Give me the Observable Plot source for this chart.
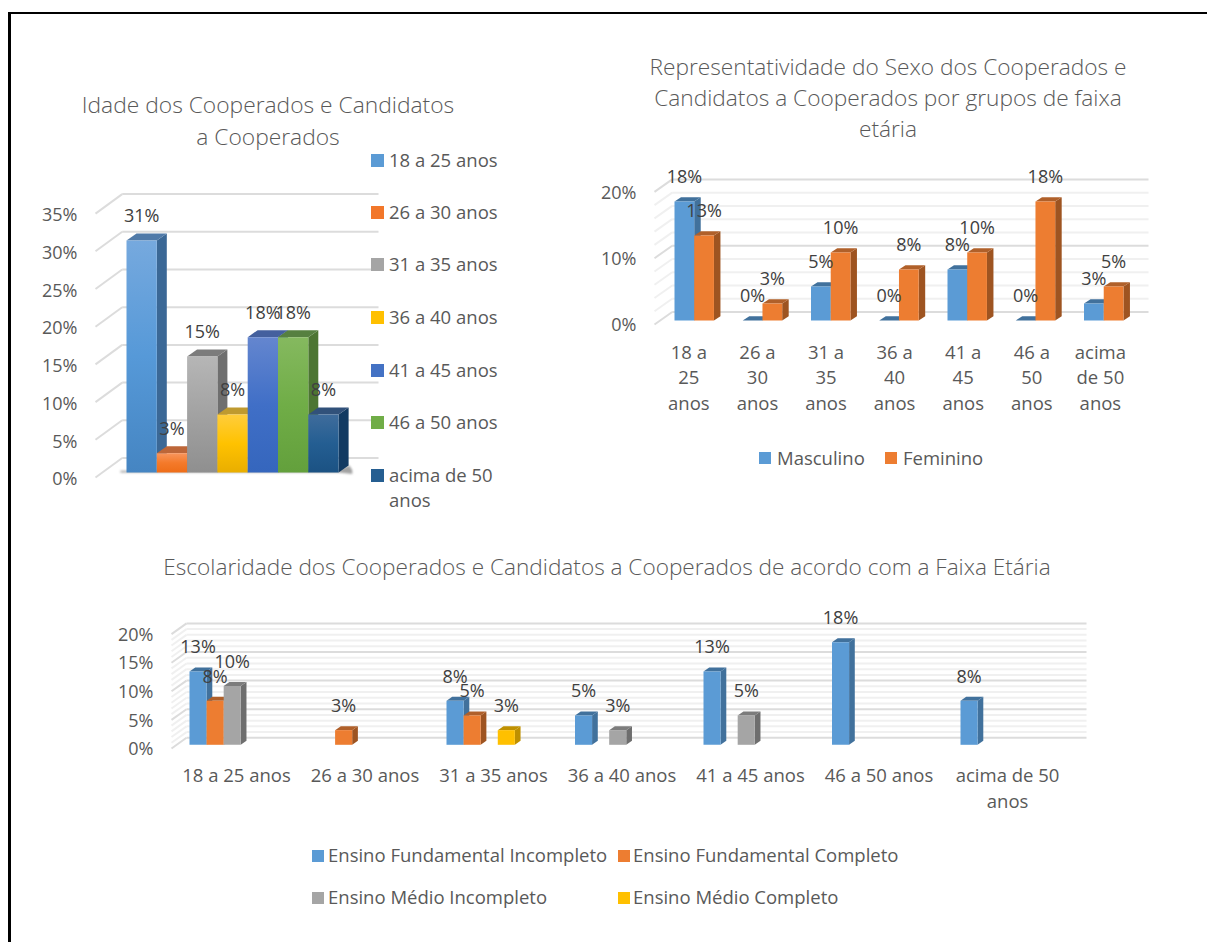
<!DOCTYPE html>
<html lang="pt">
<head>
<meta charset="utf-8">
<script src="https://cdn.jsdelivr.net/npm/d3@7"></script>
<script src="https://cdn.jsdelivr.net/npm/@observablehq/plot@0.6"></script>
<style>
  html, body { margin: 0; padding: 0; background: #fff; }
  #page { position: relative; width: 1207px; height: 942px; overflow: hidden; font-family: "Open Sans", sans-serif; color: #595959; }
  #page .edgeTop { position: absolute; left: 8px; top: 12px; right: 0; height: 2px; background: #000; }
  #page .edgeLeft { position: absolute; left: 8px; top: 12px; bottom: 0; width: 3px; background: #000; }
  .chart { position: absolute; left: 0; }
  .chart svg { overflow: visible; }
  .title { position: absolute; width: max-content; transform: translateX(-50%); text-align: center; white-space: pre; font-weight: 300; color: #595959; }
  .key { position: absolute; font-size: 18.5px; line-height: 25px; white-space: pre; color: #595959; }
  .swatch { position: absolute; }
</style>
</head>
<body>
<div id="page">
  <div class="edgeTop"></div><div class="edgeLeft"></div>
</div>
<script>
// ---------- data ----------
const faixasIdade = ["18 a 25 anos", "26 a 30 anos", "31 a 35 anos", "36 a 40 anos", "41 a 45 anos", "46 a 50 anos", "acima de 50 anos"];
const idadeValores = [30.77, 2.56, 15.38, 7.69, 17.95, 17.95, 7.69];

const faixasSexo = ["18 a\n25\nanos", "26 a\n30\nanos", "31 a\n35\nanos", "36 a\n40\nanos", "41 a\n45\nanos", "46 a\n50\nanos", "acima\nde 50\nanos"];
const masculino = [17.95, 0, 5.13, 0, 7.69, 0, 2.56];
const feminino = [12.82, 2.56, 10.26, 7.69, 10.26, 17.95, 5.13];

const faixasEscolaridade = ["18 a 25 anos", "26 a 30 anos", "31 a 35 anos", "36 a 40 anos", "41 a 45 anos", "46 a 50 anos", "acima de 50\nanos"];
const fundamentalIncompleto = [12.82, null, 7.69, 5.13, 12.82, 17.95, 7.69];
const fundamentalCompleto = [7.69, 2.56, 5.13, null, null, null, null];
const medioIncompleto = [10.26, null, null, 2.56, 5.13, null, null];
const medioCompleto = [null, null, 2.56, null, null, null, null];

// ---------- styles ----------
const FONT = '"Open Sans", sans-serif';
const pal = {
  blue:   {front: "#5b9bd5", side: "#41719c", top: "#41719c"},
  orange: {front: "#ed7d31", side: "#9e5421", top: "#b0602a"},
  gray:   {front: "#a5a5a5", side: "#6e6e6e", top: "#7c7c7c"},
  yellow: {front: "#ffc000", side: "#bf9000", top: "#bf9000"}
};
const grads = [
  {front: ["#76a9de", "#5699d8", "#4585c2"], side: "#3b6896", top: "#507aa8", swatch: "#5b9bd5"},
  {front: ["#f8955d", "#f47a2a", "#ee6d18"], side: "#a8552a", top: "#bd6638", swatch: "#f2772a"},
  {front: ["#b6b6b6", "#a2a2a2", "#8f8f8f"], side: "#6f6f6f", top: "#7c7c7c", swatch: "#a5a5a5"},
  {front: ["#ffcd3c", "#ffc200", "#e9ae00"], side: "#8f7015", top: "#bf9a2f", swatch: "#ffc000"},
  {front: ["#6486cf", "#406fc7", "#3566bd"], side: "#2c5296", top: "#44609e", swatch: "#4472c4"},
  {front: ["#85b95f", "#70ad47", "#63a03c"], side: "#4c7532", top: "#568040", swatch: "#70ad47"},
  {front: ["#3f6c9c", "#245e92", "#1b5283"], side: "#123a62", top: "#31517a", swatch: "#255e91"}
];

// ---------- helpers ----------
const page = document.getElementById("page");
const pct = v => `${Math.round(v)}%`;

// Turns bars (slot, value, colours) into side / top / front polygons, in data units.
function faces(bars, g) {
  const w = g.barW, dx = g.depthDx / g.slotPx, dy = g.depthDy / g.pctPx, b = g.baseDy / g.pctPx;
  const out = [];
  bars.forEach((bar, i) => {
    const x0 = bar.x, x1 = bar.x + w, y0 = b, y1 = b + bar.v;
    const poly = (name, fill, pts) => pts.forEach(([x, y]) => out.push({z: `${i}-${name}`, x, y, fill}));
    poly("side", bar.side, [[x1, y0], [x1 + dx, y0 + dy], [x1 + dx, y1 + dy], [x1, y1]]);
    poly("top", bar.top, [[x0, y1], [x0 + dx, y1 + dy], [x1 + dx, y1 + dy], [x1, y1]]);
    poly("front", bar.front, [[x0, y0], [x1, y0], [x1, y1], [x0, y1]]);
  });
  return out;
}

function chart3d(g, bars, extra = []) {
  const xAt = px => (px - g.x0) / g.slotPx;
  const back = g.floorDy / g.pctPx;
  const backX = xAt(g.backX), axisX = xAt(g.axisX), endX = xAt(g.endX);
  const grid = [...g.minor.map(t => ({t, major: false})), ...g.major.map(t => ({t, major: true}))];
  const width = g.endX + 20;
  const marginTop = g.y0 - g.maxY * g.pctPx - g.top;
  const marginBottom = g.top + g.height - g.y0;
  const labelled = bars.filter(b => b.label);
  const b = g.baseDy / g.pctPx;
  const svg = Plot.plot({
    width, height: g.height,
    marginLeft: g.axisX, marginRight: width - g.endX, marginTop, marginBottom,
    style: {fontFamily: FONT, color: "#595959", background: "transparent", overflow: "visible"},
    x: {type: "linear", domain: [axisX, endX], axis: null},
    y: {type: "linear", domain: [0, g.maxY], axis: null},
    marks: [
      ...(g.defs ? [g.defs] : []),
      Plot.link(grid, {x1: backX, x2: endX, y1: d => d.t + back, y2: d => d.t + back,
        stroke: d => d.major ? "#dcdcdc" : "#f0f0f0", strokeWidth: 2}),
      Plot.link(grid, {x1: axisX, x2: backX, y1: d => d.t, y2: d => d.t + back,
        stroke: d => d.major ? "#dcdcdc" : "#f0f0f0", strokeWidth: 2}),
      ...extra,
      Plot.line(faces(bars, g), {x: "x", y: "y", z: "z", fill: {value: "fill", scale: null}, stroke: "none"}),
      Plot.axisY({anchor: "left", ticks: g.major, tickSize: 0, tickPadding: 18, tickFormat: d => `${d}%`, fontSize: 18, label: null, dy: g.axisDy || 0}),
      ...(g.cats ? [Plot.text(g.cats, {
        x: (d, i) => i * g.catStep + g.catX, y: 0, text: d => d, dy: g.catDy, lineAnchor: "top",
        lineHeight: g.catLine, fontSize: 18.5, fill: "#595959"
      })] : []),
      Plot.text(labelled, {x: d => d.x + g.barW / 2, y: d => b + d.v, text: "label", dy: -24, fontSize: 18, fill: "#404040"})
    ]
  });
  const holder = document.createElement("div");
  holder.className = "chart";
  holder.style.top = `${g.top}px`;
  holder.appendChild(svg);
  page.appendChild(holder);
}

function addTitle(lines, cx, top, size, lh) {
  const el = document.createElement("div");
  el.className = "title";
  el.textContent = lines.join("\n");
  el.style.cssText = `left:${cx}px;top:${top}px;font-size:${size}px;line-height:${lh}px`;
  page.appendChild(el);
}
function addKey(text, color, sx, tx, cy, size) {
  const s = document.createElement("div");
  s.className = "swatch";
  s.style.cssText = `left:${sx}px;top:${cy - size / 2}px;width:${size}px;height:${size}px;background:${color}`;
  page.appendChild(s);
  const t = document.createElement("div");
  t.className = "key";
  t.textContent = text;
  t.style.cssText = `left:${tx}px;top:${cy - 13.5}px`;
  page.appendChild(t);
}

// ---------- chart 1: Idade ----------
function gradientDefs() {
  const defs = d3.create("svg:defs");
  grads.forEach((g, i) => {
    const lg = defs.append("linearGradient").attr("id", `grad${i}`)
      .attr("x1", 0).attr("y1", 0).attr("x2", 0).attr("y2", 1);
    g.front.forEach((c, j) => lg.append("stop").attr("offset", `${j * 50}%`).attr("stop-color", c));
  });
  return defs.node();
}
const g1 = {
  top: 180, height: 320, axisX: 95, backX: 121.7, endX: 378, x0: 126, slotPx: 30.3, barW: 1,
  y0: 477, pctPx: 7.54, floorDy: 19.5, baseDy: 5, depthDx: 10, depthDy: 7, maxY: 35, axisDy: 2,
  major: d3.range(0, 36, 5), minor: [], defs: gradientDefs
};
const bars1 = idadeValores.map((v, i) => ({
  x: i, v, label: pct(v), front: `url(#grad${i})`, side: grads[i].side, top: grads[i].top
}));
const shadow = [[-0.2, 0.66], [7, 0.66], [7.45, 0.45], [7.45, 1.0], [7.35, 1.6], [7, 1.0], [-0.2, 0.9]]
  .map(([x, y]) => ({x, y}));
chart3d(g1, bars1, [
  Plot.line(shadow, {x: "x", y: "y", fill: "#555", stroke: "none", fillOpacity: 0.55, imageFilter: "blur(1px)"})
]);
addTitle(["Idade dos Cooperados e Candidatos", "a Cooperados"], 268, 89, 22.8, 32);
const legendY1 = [160, 212.7, 264.7, 317.3, 370, 422.7, 475];
faixasIdade.forEach((name, i) => addKey(name.replace("de 50 anos", "de 50\nanos"), grads[i].swatch, 371, 389, legendY1[i], 13));

// ---------- chart 2: Sexo ----------
const g2 = {
  top: 170, height: 260, axisX: 654, backX: 671.7, endX: 1148, x0: 674, slotPx: 68.25, barW: 0.289,
  y0: 324, pctPx: 6.63, floorDy: 12.5, baseDy: 4, depthDx: 6.5, depthDy: 4.3, maxY: 20, axisDy: 1,
  major: [0, 10, 20], minor: d3.range(0, 21, 2).filter(t => t % 10), cats: faixasSexo, catStep: 1.005, catX: 0.21, catDy: 16, catLine: 1.39
};
const series2 = [[masculino, pal.blue], [feminino, pal.orange]];
const bars2 = [];
masculino.forEach((_, i) => series2.forEach(([vals, c], s) => {
  bars2.push({x: i + s * g2.barW, v: vals[i], label: pct(vals[i]), ...c});
}));
chart3d(g2, bars2);
addTitle(["Representatividade do Sexo dos Cooperados e", "Candidatos a Cooperados por grupos de faixa", "etária"], 888, 51, 22.7, 31);
addKey("Masculino", pal.blue.front, 759, 777, 458, 12);
addKey("Feminino", pal.orange.front, 885, 903, 458, 12);

// ---------- chart 3: Escolaridade ----------
const g3 = {
  top: 610, height: 210, axisX: 171, backX: 186, endX: 1086, x0: 189, slotPx: 128.5, barW: 0.133,
  y0: 748, pctPx: 5.72, floorDy: 10.7, baseDy: 3.7, depthDx: 5.7, depthDy: 4, maxY: 20, axisDy: 1,
  major: d3.range(0, 21, 5), minor: d3.range(0, 21).filter(t => t % 5), cats: faixasEscolaridade, catStep: 1, catX: 0.366, catDy: 15, catLine: 1.41
};
const series3 = [[fundamentalIncompleto, pal.blue], [fundamentalCompleto, pal.orange], [medioIncompleto, pal.gray], [medioCompleto, pal.yellow]];
const bars3 = [];
faixasEscolaridade.forEach((_, i) => series3.forEach(([vals, c], s) => {
  if (vals[i] != null) bars3.push({x: i + s * g3.barW, v: vals[i], label: pct(vals[i]), ...c});
}));
chart3d(g3, bars3);
addTitle(["Escolaridade dos Cooperados e Candidatos a Cooperados de acordo com a Faixa Etária"], 607, 551, 22.6, 32);
addKey("Ensino Fundamental Incompleto", pal.blue.front, 312, 328, 855.5, 12);
addKey("Ensino Fundamental Completo", pal.orange.front, 618, 633, 855.5, 12);
addKey("Ensino Médio Incompleto", pal.gray.front, 312, 328, 897.5, 12);
addKey("Ensino Médio Completo", pal.yellow.front, 618, 633, 897.5, 12);
</script>
</body>
</html>
